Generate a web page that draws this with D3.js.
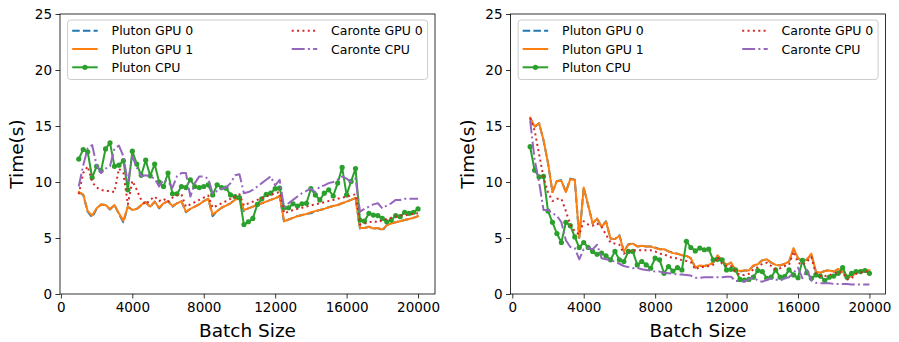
<!DOCTYPE html>
<html><head><meta charset="utf-8">
<script src="https://cdn.jsdelivr.net/npm/d3@7"></script>
<style>body{margin:0;background:#fff}svg{display:block}text{font-family:"DejaVu Sans",sans-serif;fill:#000}</style>
</head><body><svg id="c" width="899" height="342"></svg>
<script>
const batchSizes = [1000,1250,1500,1750,2000,2250,2500,2750,3000,3250,3500,3750,4000,4250,4500,4750,5000,5250,5500,5750,6000,6250,6500,6750,7000,7250,7500,7750,8000,8250,8500,8750,9000,9250,9500,9750,10000,10250,10500,10750,11000,11250,11500,11750,12000,12250,12500,12750,13000,13250,13500,13750,14000,14250,14500,14750,15000,15250,15500,15750,16000,16250,16500,16750,17000,17250,17500,17750,18000,18250,18500,18750,19000,19250,19500,19750,20000];
const xTicks = [0,4000,8000,12000,16000,20000];
const yTicks = [0,5,10,15,20,25];
const seriesNames = ["Pluton GPU 0","Pluton GPU 1","Pluton CPU","Caronte GPU 0","Caronte CPU"];

// Left panel
const leftPlutonGpu0 = [9.1,8.85,7.35,6.85,7.6,8.0,7.95,7.55,7.95,7.15,6.4,7.8,7.5,7.6,7.9,8.2,7.75,8.25,7.65,8.1,8.3,7.8,8.1,8.3,7.3,7.6,7.8,8.0,8.3,8.5,6.95,7.4,7.7,7.9,8.1,8.4,8.6,7.4,7.65,7.8,7.95,8.1,8.25,8.4,8.55,8.7,6.4,6.65,6.8,6.95,7.05,7.15,7.2,7.4,7.5,7.6,7.75,7.85,7.95,8.1,8.25,8.4,8.55,5.85,5.9,6.0,5.85,5.9,5.65,6.15,6.3,6.4,6.5,6.6,6.7,6.8,6.95];
const leftPlutonGpu1 = [9.1,8.9,7.4,7.0,7.65,8.0,7.95,7.6,7.95,7.2,6.55,7.8,7.5,7.6,7.95,8.2,7.8,8.25,7.7,8.1,8.3,7.85,8.1,8.3,7.35,7.6,7.8,8.0,8.3,8.5,7.1,7.4,7.7,7.9,8.1,8.4,8.65,7.5,7.65,7.8,7.95,8.1,8.25,8.4,8.55,8.75,6.5,6.65,6.8,6.95,7.05,7.15,7.3,7.4,7.5,7.6,7.75,7.85,7.95,8.1,8.25,8.4,8.6,5.9,5.9,6.0,5.85,5.9,5.75,6.15,6.3,6.4,6.5,6.6,6.7,6.8,6.95];
const leftPlutonCpu = [12.05,12.9,12.7,10.4,11.4,11.0,12.95,13.5,11.4,11.5,11.9,9.3,12.75,11.6,10.6,11.95,10.55,11.6,10.0,9.6,10.8,8.95,8.95,9.6,9.5,10.2,9.6,9.5,9.6,9.75,8.85,9.75,9.5,9.45,8.85,8.7,8.6,6.2,6.45,6.75,8.0,8.5,8.9,9.0,9.4,9.45,7.7,7.7,8.05,7.85,8.05,8.1,9.4,8.85,8.4,9.0,9.3,8.75,9.9,11.3,8.85,10.05,11.2,6.6,6.5,7.2,7.05,7.0,6.75,6.45,6.6,7.0,6.9,7.3,7.2,7.3,7.6];
const leftCaronteGpu0 = [8.9,10.8,11.4,10.0,9.5,9.3,9.2,9.2,9.1,11.2,10.8,8.0,10.1,9.3,8.4,8.0,8.4,8.7,8.3,8.5,8.2,8.6,8.8,8.9,7.8,8.0,8.2,8.4,8.6,8.8,7.7,7.9,8.1,8.3,8.5,8.7,8.9,7.9,8.1,8.25,8.4,8.55,8.7,8.85,9.0,9.1,7.2,7.35,7.5,7.6,7.7,7.8,7.9,8.0,8.1,8.2,8.3,8.4,8.5,8.6,8.7,8.8,8.9,6.2,6.3,6.4,6.5,6.4,6.6,6.7,6.8,6.9,7.0,7.0,7.1,7.15,7.2];
const leftCaronteCpu = [9.6,11.5,13.0,13.3,11.5,10.8,11.2,11.4,13.0,13.25,12.3,9.9,12.3,11.3,10.5,10.6,10.5,10.3,9.6,10.2,10.0,9.5,10.5,10.8,10.8,8.7,9.9,10.5,10.5,10.3,9.0,9.2,9.4,9.5,9.9,10.6,10.7,9.0,9.1,9.3,9.6,9.9,10.2,10.5,9.7,10.2,7.7,8.1,8.4,8.7,9.0,9.2,9.4,9.1,9.6,9.7,9.9,10.0,10.2,10.5,10.3,10.0,10.3,7.35,7.6,7.8,8.0,8.1,7.65,7.9,8.1,8.4,8.4,8.5,8.5,8.5,8.5];

// Right panel
const rightPlutonGpu0 = [15.75,14.9,15.25,13.7,11.7,9.1,10.1,10.15,9.1,10.3,10.2,5.0,9.5,7.9,6.3,6.75,6.0,6.5,4.95,4.9,5.25,3.8,4.45,4.5,4.25,4.3,4.25,4.25,4.15,4.0,4.0,3.8,3.7,3.6,3.45,3.4,3.2,2.35,2.5,2.5,2.6,2.8,3.4,3.0,2.6,2.8,2.1,2.0,2.1,2.1,2.5,2.7,3.0,3.1,2.8,2.6,2.55,2.7,2.9,4.0,3.2,2.9,3.1,3.5,2.0,1.9,2.05,2.15,2.0,2.2,2.0,1.5,1.6,1.9,2.1,2.1,2.1];
const rightPlutonGpu1 = [15.75,14.95,15.25,13.75,11.7,9.1,10.1,10.1,9.1,10.25,10.2,5.0,9.5,7.95,6.3,6.75,6.0,6.45,4.95,4.9,5.2,3.8,4.4,4.5,4.25,4.3,4.25,4.25,4.1,4.0,4.0,3.8,3.65,3.6,3.45,3.4,3.2,2.35,2.55,2.5,2.6,2.8,3.45,3.0,2.6,2.8,2.15,2.05,2.1,2.1,2.55,2.65,3.0,3.1,2.8,2.6,2.55,2.7,2.9,4.1,3.2,2.9,3.1,3.6,2.0,1.9,2.05,2.1,2.0,2.25,2.0,1.5,1.6,1.9,2.1,2.15,2.1];
const rightPlutonCpu = [13.15,11.05,10.45,10.5,7.4,6.4,5.4,4.6,6.4,6.1,5.1,4.15,4.6,4.15,3.8,3.55,3.65,3.4,3.05,3.8,3.05,2.9,3.8,3.8,2.6,2.9,2.6,2.3,3.2,3.05,1.85,2.45,2.05,2.35,2.15,4.7,4.15,3.85,4.1,3.95,4.0,3.05,3.1,3.05,2.15,2.2,2.15,1.3,1.25,1.3,1.5,2.1,2.0,1.4,1.5,2.15,1.5,1.55,2.15,1.7,1.45,3.0,1.9,1.4,1.7,1.6,1.2,1.5,1.6,1.85,2.35,1.5,1.85,2.0,2.0,2.1,1.85];
const rightCaronteGpu0 = [15.7,14.6,12.5,10.4,9.1,8.3,8.5,8.5,7.4,6.2,5.6,5.3,6.5,6.2,6.1,6.3,6.0,5.3,4.6,4.5,4.4,3.6,3.8,3.9,3.9,3.9,3.9,3.9,3.8,3.6,3.55,3.35,3.2,3.2,3.0,2.95,2.85,2.2,2.4,2.4,2.5,2.6,3.3,2.7,2.5,2.5,2.0,1.7,1.7,1.8,2.2,2.4,2.7,2.8,2.5,2.2,2.3,2.5,2.6,3.8,2.8,2.6,2.9,3.3,1.8,1.6,1.6,1.7,1.8,2.0,1.9,1.3,1.4,1.8,1.9,2.0,2.0];
const rightCaronteCpu = [15.5,12.0,10.0,7.5,7.5,7.2,7.0,6.4,4.8,4.2,4.1,3.1,4.0,4.1,4.0,4.4,3.2,3.1,3.0,2.9,2.7,2.5,2.4,2.3,2.35,2.2,2.15,2.1,2.0,2.0,1.9,1.85,1.8,1.75,1.75,1.7,1.65,1.45,1.45,1.5,1.5,1.5,1.5,1.5,1.55,1.55,1.15,1.15,1.1,1.3,1.5,1.2,1.1,1.25,1.4,1.3,1.2,1.4,1.5,1.9,2.35,1.4,2.15,1.2,1.0,0.95,0.95,0.95,0.9,0.9,0.9,0.9,0.85,0.85,0.85,0.85,0.85];

const W = 899, H = 342;
const axTop = 14, axBottom = 294;
const styles = [
  {color:"#1f77b4", dash:"7.5,3.2"},
  {color:"#ff7f0e", dash:null},
  {color:"#2ca02c", dash:null, marker:true},
  {color:"#d62728", dash:"2,3.35"},
  {color:"#9467bd", dash:"13,3.2,2,3.2"}
];
const panels = [
  {left:60, right:435, xDomain:[-50,20950],
   data:[leftPlutonGpu0,leftPlutonGpu1,leftPlutonCpu,leftCaronteGpu0,leftCaronteCpu]},
  {left:510.5, right:885.5, xDomain:[-100,20900],
   data:[rightPlutonGpu0,rightPlutonGpu1,rightPlutonCpu,rightCaronteGpu0,rightCaronteCpu]}
];

const svg = d3.select("#c");
svg.append("rect").attr("width",W).attr("height",H).attr("fill","#fff");

panels.forEach((p, pi) => {
  const x = d3.scaleLinear().domain(p.xDomain).range([p.left, p.right]);
  const y = d3.scaleLinear().domain([0,25]).range([axBottom, axTop]);
  const g = svg.append("g");

  const clipId = "clip"+pi;
  g.append("clipPath").attr("id",clipId).append("rect")
    .attr("x",p.left).attr("y",axTop).attr("width",p.right-p.left).attr("height",axBottom-axTop);
  const plot = g.append("g").attr("clip-path",`url(#${clipId})`);

  p.data.forEach((vals,k) => {
    const st = styles[k];
    const line = d3.line().x((d,i)=>x(batchSizes[i])).y(d=>y(d));
    plot.append("path").datum(vals).attr("d",line)
      .attr("fill","none").attr("stroke",st.color).attr("stroke-width",2)
      .attr("stroke-linejoin","round").attr("stroke-linecap", st.dash ? "butt" : "square")
      .attr("stroke-dasharray",st.dash);
    if (st.marker) {
      plot.selectAll(null).data(vals).enter().append("circle")
        .attr("cx",(d,i)=>x(batchSizes[i])).attr("cy",d=>y(d)).attr("r",2.6)
        .attr("fill",st.color);
    }
  });

  const xAxis = d3.axisBottom(x).tickValues(xTicks).tickSize(4.5).tickPadding(3.5).tickFormat(d3.format("d"));
  const yAxis = d3.axisLeft(y).tickValues(yTicks).tickSize(4.5).tickPadding(3.5);
  const gx = g.append("g").attr("transform",`translate(0,${axBottom})`).call(xAxis);
  const gy = g.append("g").attr("transform",`translate(${p.left},0)`).call(yAxis);
  [gx,gy].forEach(a => {
    a.select(".domain").remove();
    a.selectAll(".tick line").attr("stroke","#000").attr("stroke-width",0.8);
    a.selectAll(".tick text").attr("font-size",13.5).attr("font-family","DejaVu Sans").attr("fill","#000");
  });

  g.append("rect").attr("x",p.left).attr("y",axTop).attr("width",p.right-p.left).attr("height",axBottom-axTop)
    .attr("fill","none").attr("stroke","#000").attr("stroke-width",0.8);

  g.append("text").attr("x",(p.left+p.right)/2).attr("y",337).attr("text-anchor","middle")
    .attr("font-size",18.5).text("Batch Size");
  g.append("text").attr("transform",`translate(${p.left-37},${(axTop+axBottom)/2}) rotate(-90)`)
    .attr("text-anchor","middle").attr("font-size",18.5).text("Time(s)");

  const lx = p.left + 7.6, ly = axTop + 6;
  const lg = g.append("g");
  lg.append("rect").attr("x",lx).attr("y",ly).attr("width",360).attr("height",59.5).attr("rx",3)
    .attr("fill","#fff").attr("fill-opacity",0.8).attr("stroke","#cccccc").attr("stroke-width",1);
  const rows = [10.7, 29, 47.3];
  seriesNames.forEach((name,k) => {
    const col = k < 3 ? 0 : 1;
    const row = k < 3 ? k : k-3;
    const hx = lx + 4.6 + col*219.5;
    const hy = ly + rows[row];
    const st = styles[k];
    lg.append("line").attr("x1",hx).attr("x2",hx+25.5).attr("y1",hy).attr("y2",hy)
      .attr("stroke",st.color).attr("stroke-width",2).attr("stroke-dasharray",st.dash);
    if (st.marker) lg.append("circle").attr("cx",hx+12.75).attr("cy",hy).attr("r",2.6).attr("fill",st.color);
    lg.append("text").attr("x",hx+39.4).attr("y",hy).attr("dy","0.36em").attr("font-size",12.5).text(name);
  });
});
</script></body></html>
